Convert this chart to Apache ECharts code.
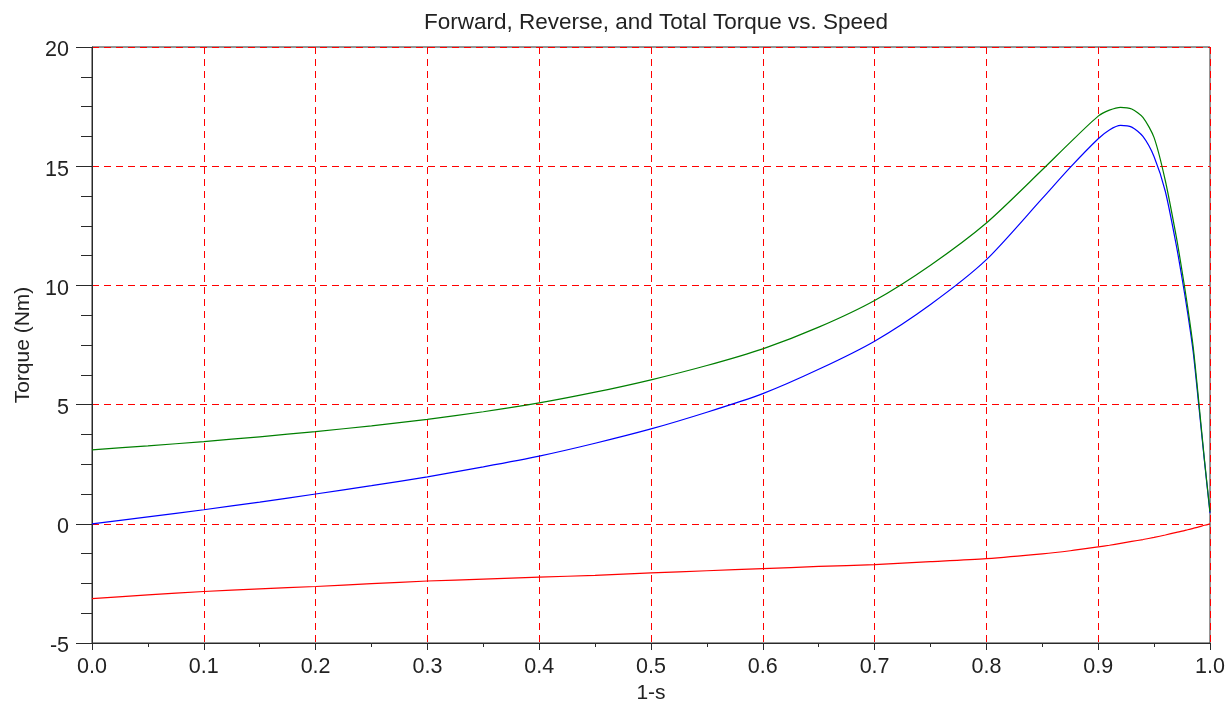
<!DOCTYPE html>
<html>
<head>
<meta charset="utf-8">
<script src="https://cdn.jsdelivr.net/npm/echarts@6/dist/echarts.min.js"></script>
<style>
html,body{margin:0;padding:0;background:#fff;}
#chart{width:1230px;height:704px;}
</style>
</head>
<body>
<div id="chart"></div>
<script>
// 1-s values
var speed = [0, 0.05, 0.1, 0.15, 0.2, 0.25, 0.3, 0.35, 0.4, 0.45, 0.5, 0.55, 0.6, 0.65, 0.7, 0.75, 0.8, 0.85, 0.875, 0.9, 0.91, 0.92, 0.93, 0.94, 0.95, 0.96, 0.97, 0.975, 0.98, 0.985, 0.99, 0.995, 1.0];
// Forward torque (blue)
var forwardTorque = [0, 0.29, 0.59, 0.91, 1.25, 1.60, 1.97, 2.39, 2.84, 3.38, 3.98, 4.68, 5.46, 6.48, 7.66, 9.20, 11.08, 13.65, 14.95, 16.15, 16.52, 16.71, 16.64, 16.25, 15.4, 13.95, 11.65, 10.3, 8.85, 7.2, 4.95, 2.65, 0.45];
// Reverse torque (red)
var reverseTorque = [-3.14, -2.98, -2.84, -2.73, -2.63, -2.51, -2.40, -2.32, -2.24, -2.16, -2.06, -1.97, -1.88, -1.79, -1.71, -1.59, -1.46, -1.26, -1.13, -0.97, -0.90, -0.82, -0.74, -0.66, -0.57, -0.47, -0.36, -0.31, -0.25, -0.19, -0.13, -0.06, 0];
// Total torque (green)
var totalTorque = [3.10, 3.27, 3.45, 3.65, 3.87, 4.11, 4.38, 4.70, 5.07, 5.52, 6.04, 6.64, 7.34, 8.25, 9.37, 10.85, 12.62, 14.85, 16.0, 17.10, 17.35, 17.47, 17.40, 17.05, 16.2, 14.4, 12.0, 10.6, 9.1, 7.4, 5.1, 2.7, 0.5];

var titleText = 'Forward, Reverse, and Total Torque vs. Speed';
var xName = '1-s';
var yName = 'Torque (Nm)';

function pairs(ys){ return speed.map(function(x,i){ return [x, ys[i]]; }); }

var FONT = 'Liberation Sans, Arial, sans-serif';
var AX = '#2a2a2a';

var chart = echarts.init(document.getElementById('chart'), null, {renderer:'canvas'});
chart.setOption({
  animation: false,
  backgroundColor: '#ffffff',
  title: {
    text: titleText,
    left: 651,
    top: 6,
    textAlign: 'center',
    textStyle: {fontFamily: FONT, fontSize: 22.5, fontWeight: 'normal', color: '#222'}
  },
  grid: {left: 92, right: 20, top: 47, bottom: 61, outerBoundsMode: 'none', containLabel: false,
    show: true, borderColor: AX, borderWidth: 1, backgroundColor: 'transparent'},
  xAxis: {
    type: 'value', min: 0, max: 1, interval: 0.1,
    name: xName, nameLocation: 'middle', nameGap: 37,
    nameTextStyle: {fontFamily: FONT, fontSize: 21, color: '#222'},
    axisLine: {show: true, onZero: false, lineStyle: {color: AX, width: 1}},
    axisTick: {show: true, inside: false, length: 7, lineStyle: {color: AX}},
    minorTick: {show: true, splitNumber: 2, length: 4, lineStyle: {color: AX}},
    axisLabel: {fontFamily: FONT, fontSize: 21.5, color: '#222', margin: 13,
      formatter: function(v){ return v.toFixed(1); }},
    splitLine: {show: true, lineStyle: {color: '#ff0000', type: [7,5], width: 1}}
  },
  yAxis: {
    type: 'value', min: -5, max: 20, interval: 5,
    name: yName, nameLocation: 'middle', nameGap: 58, nameRotate: 90,
    nameTextStyle: {fontFamily: FONT, fontSize: 21, color: '#222'},
    axisLine: {show: true, onZero: false, lineStyle: {color: AX, width: 1}},
    axisTick: {show: true, inside: false, length: 16, lineStyle: {color: AX}},
    minorTick: {show: true, splitNumber: 4, length: 11, lineStyle: {color: AX}},
    axisLabel: {margin: 23,
      formatter: function(v){ return '{a|' + v + '}'; },
      rich: {a: {fontFamily: FONT, fontSize: 21.5, color: '#222', padding: [7,0,0,0]}}},
    splitLine: {show: true, lineStyle: {color: '#ff0000', type: [7,5], width: 1}}
  },
  series: [
    {name: 'Reverse', type: 'line', data: pairs(reverseTorque), showSymbol: false, smooth: 0.25,
      lineStyle: {color: '#ff0000', width: 1.2}, itemStyle: {color: '#ff0000'}},
    {name: 'Forward', type: 'line', data: pairs(forwardTorque), showSymbol: false, smooth: 0.25,
      lineStyle: {color: '#0000ff', width: 1.2}, itemStyle: {color: '#0000ff'}},
    {name: 'Total', type: 'line', data: pairs(totalTorque), showSymbol: false, smooth: 0.25,
      lineStyle: {color: '#007f00', width: 1.2}, itemStyle: {color: '#007f00'}}
  ]
});
</script>
</body>
</html>
